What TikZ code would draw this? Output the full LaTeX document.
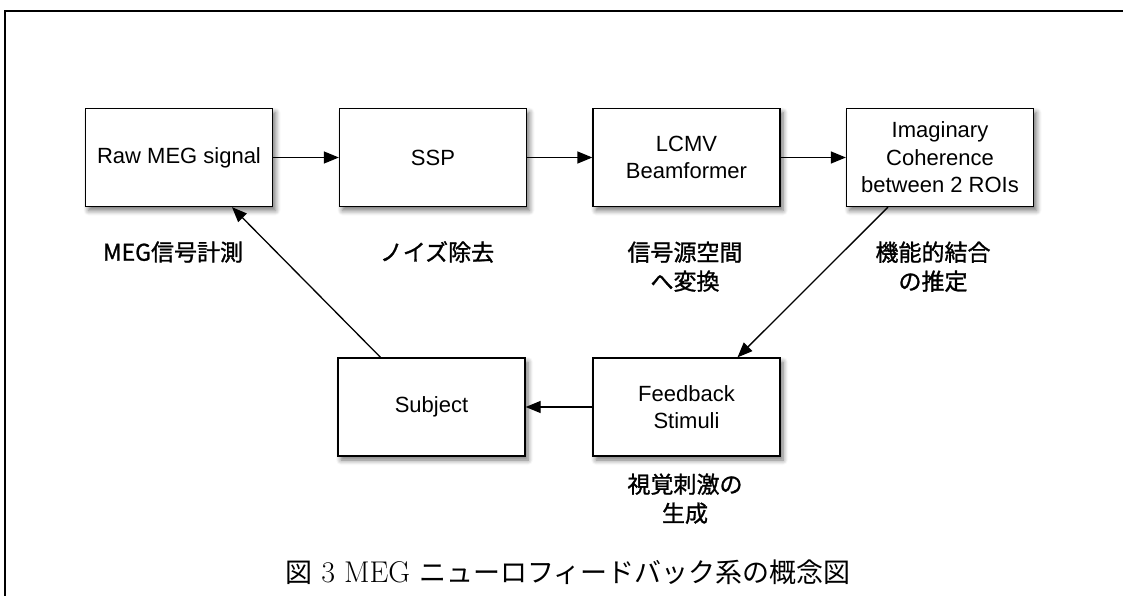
\documentclass[tikz,border=0pt]{standalone}
\usepackage{fontspec}
\setsansfont{Liberation Sans}
\newfontfamily\jp{Noto Sans CJK JP}
\newfontfamily\jpm{Noto Sans CJK JP}[FakeBold=1.2]
\usetikzlibrary{shadows.blur,arrows.meta}
\begin{document}
\begin{tikzpicture}[x=1pt,y=-1pt,
  box/.style={draw, line width=1.3pt, fill=white, minimum width=187pt, minimum height=98pt,
    align=center, inner sep=0pt, font=\sffamily\fontsize{22}{27.5}\selectfont,
    blur shadow={shadow xshift=3pt, shadow yshift=-4pt, shadow blur radius=5pt,
      shadow blur steps=6, shadow opacity=55}},
  lab/.style={align=center, font=\jpm\fontsize{23}{29}\selectfont},
  arr/.style={line width=1.3pt, -{Triangle[length=15pt,width=12pt]}}]
\useasboundingbox (0,0) rectangle (1123,596);
\draw[line width=1.3pt] (5,600) -- (5,11) -- (1130,11);

\node[box] (raw) at (179,157.5) {Raw MEG signal};
\node[box] (ssp) at (433,157.5) {SSP};
\node[box] (lcmv) at (686.5,157.5) {LCMV\\Beamformer};
\node[box] (ic) at (940,157.5) {Imaginary\\Coherence\\between 2 ROIs};
\node[box] (sub) at (431.5,407) {Subject};
\node[box] (fb) at (686.5,407) {Feedback\\Stimuli};

\draw[arr] (raw) -- (ssp);
\draw[arr] (ssp) -- (lcmv);
\draw[arr] (lcmv) -- (ic);
\draw[arr] ([xshift=-52pt]ic.south) -- ([xshift=51pt]fb.north);
\draw[arr] (fb) -- (sub);
\draw[arr] ([xshift=-51pt]sub.north) -- ([xshift=53pt]raw.south);

\node[lab] (l1) at (173,252) {MEG信号計測};
\node[lab] (l2) at (437,252) {ノイズ除去};
\node[lab, anchor=north] (l3) at (685,238) {信号源空間\\へ変換};
\node[lab, anchor=north] (l4) at (933,238) {機能的結合\\の推定};
\node[lab, anchor=north] (l5) at (685,470) {視覚刺激の\\生成};

\node[font=\fontsize{30}{32}\selectfont, inner sep=0pt] (cap) at (568,572)
  {{\jp\fontsize{27}{32}\selectfont 図} 3 MEG {\jp\fontsize{27}{32}\selectfont ニューロフィードバック系の概念図}};
\end{tikzpicture}
\end{document}
